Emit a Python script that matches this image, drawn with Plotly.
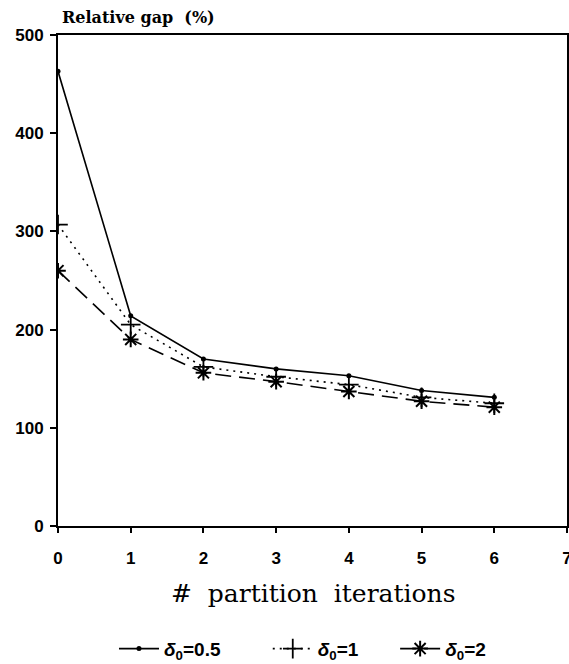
import plotly.graph_objects as go

# Partition iterations and relative gap (%) for three starting values of delta_0
iterations = [0, 1, 2, 3, 4, 5, 6]
gap_d05 = [463, 214, 170, 160, 153, 138, 131]
gap_d1 = [307, 205, 162, 152, 144, 131, 125]
gap_d2 = [260, 190, 156, 147, 137, 127, 121]

NB = "\u00a0"
series_names = [
    "<b><i>δ</i><sub>0</sub>=0.5</b>" + NB * 8,
    "<b><i>δ</i><sub>0</sub>=1</b>" + NB * 6,
    "<b><i>δ</i><sub>0</sub>=2</b>",
]

y_ticks = [0, 100, 200, 300, 400, 500]
x_ticks = [0, 1, 2, 3, 4, 5, 6, 7]

fig = go.Figure()
fig.add_trace(go.Scatter(
    x=iterations, y=gap_d05, name=series_names[0], mode="lines+markers",
    line=dict(color="black", width=1.6, dash="solid"),
    marker=dict(symbol="circle", size=5, color="black"),
))
fig.add_trace(go.Scatter(
    x=iterations, y=gap_d1, name=series_names[1], mode="lines+markers",
    line=dict(color="black", width=1.6, dash="2px,5px"),
    marker=dict(symbol="cross-thin-open", size=14, color="black",
                line=dict(color="black", width=1.8)),
))
fig.add_trace(go.Scatter(
    x=iterations, y=gap_d2, name=series_names[2], mode="lines+markers",
    line=dict(color="black", width=1.6, dash="16px,8px"),
    marker=dict(symbol="asterisk-open", size=13, color="black",
                line=dict(color="black", width=2)),
))

axis_font = dict(family="Liberation Sans", size=17, color="black")

fig.update_layout(
    width=569, height=664,
    margin=dict(l=58, r=2, t=35, b=138, autoexpand=False),
    paper_bgcolor="white", plot_bgcolor="white",
    showlegend=True,
    legend=dict(
        orientation="h", x=0.11, xanchor="left", y=-0.25, yanchor="middle",
        font=dict(family="Liberation Sans", size=19, color="black"),
        itemwidth=40, tracegroupgap=0,
    ),
    xaxis=dict(
        range=[0, 7], tickvals=x_ticks, ticktext=[f"<b>{v}</b>" for v in x_ticks],
        showline=True, linecolor="black", linewidth=2, mirror=True,
        ticks="outside", ticklen=5, tickwidth=1.5, tickcolor="black",
        showgrid=False, zeroline=False, tickfont=axis_font, automargin=False,
        ticklabelstandoff=11, ticklabeloverflow="allow",
    ),
    yaxis=dict(
        range=[0, 500], tickvals=y_ticks, ticktext=[f"<b>{v}</b>" for v in y_ticks],
        showline=True, linecolor="black", linewidth=2, mirror=True,
        ticks="outside", ticklen=6, tickwidth=1.5, tickcolor="black",
        showgrid=False, zeroline=False, tickfont=axis_font, automargin=False,
        ticklabelstandoff=3,
    ),
    annotations=[
        dict(text="<b>Relative gap  (%)</b>", xref="paper", yref="paper",
             x=0.003, y=1.0, xanchor="left", yanchor="bottom", yshift=6,
             showarrow=False,
             font=dict(family="DejaVu Serif", size=16, color="black")),
        dict(text="#  partition  iterations", xref="paper", yref="paper",
             x=0.502, y=0, xanchor="center", yanchor="middle", yshift=-67,
             showarrow=False,
             font=dict(family="DejaVu Serif", size=25, color="black")),
    ],
)

fig.write_html("out.html")
